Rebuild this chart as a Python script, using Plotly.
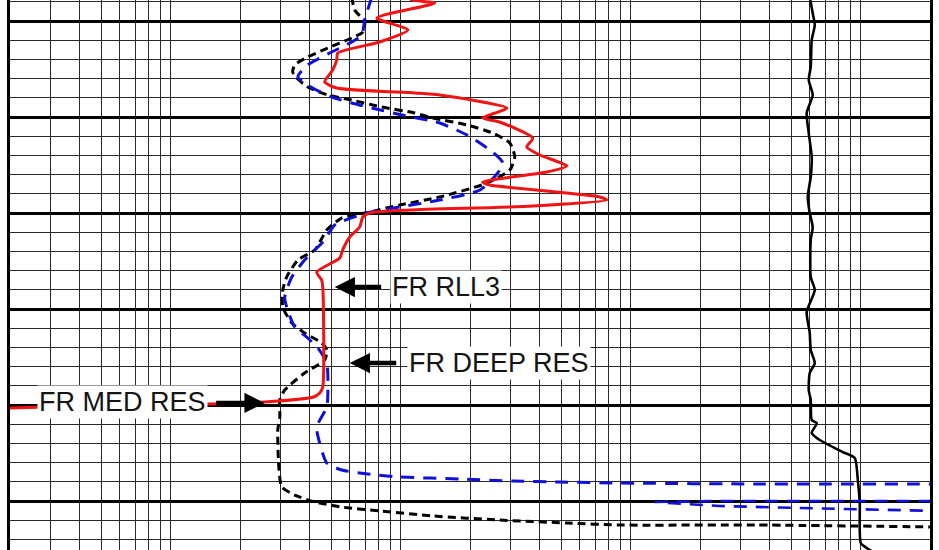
import math
import plotly.graph_objects as go

# ---- log track data: depth (ft) and resistivity (ohm.m) ----
red_depth = [4997.5, 4997.81, 4998.13, 4999.69, 5000.94, 5002.19, 5003.33, 5004.06, 5005.10, 5006.35,
             5006.98, 5007.50, 5007.71, 5009.06, 5010.10, 5010.52, 5012.19, 5013.13, 5013.96, 5015.10,
             5015.73, 5016.77, 5017.08, 5018.33, 5018.65, 5019.27, 5019.69, 5020.00, 5020.42, 5021.46,
             5022.50, 5023.85, 5024.69, 5026.15, 5026.98, 5027.71, 5038.13, 5038.75, 5039.17, 5039.69,
             5039.90, 5040.10, 5040.31, 5040.36]
red_res = [10.73, 11.16, 14.05, 7.87, 10.73, 8.10, 5.32, 5.27, 5.06, 4.67,
           5.27, 11.50, 14.78, 28.9, 22.7, 26.9, 37.5, 35.3, 40.2, 52.7,
           43.1, 22.7, 24.4, 73.3, 78.6, 37.5, 10.94, 7.33, 6.84, 6.63,
           6.00, 5.59, 5.43, 4.31, 4.53, 4.58, 4.58, 4.44, 4.18, 2.56,
           1.43, 0.491, 0.1995, 0.18]

blue_depth = [4997.5, 4999.90, 5001.46, 5002.19, 5003.23, 5004.58, 5005.83, 5006.98, 5007.92, 5008.54,
              5009.06, 5009.79, 5010.63, 5011.88, 5013.65, 5014.79, 5015.83, 5017.60, 5018.65, 5019.38,
              5020.00, 5021.25, 5022.81, 5024.90, 5026.67, 5028.75, 5029.79, 5031.88, 5033.02, 5034.06,
              5035.63, 5038.75, 5040.21, 5042.29, 5043.96, 5046.04, 5046.77, 5047.19, 5047.50, 5047.71,
              5047.92, 5048.02, 5048.13, 5048.23, 5048.23]
blue_res = [7.48, 6.97, 6.77, 6.12, 5.01, 3.94, 3.57, 4.14, 5.01, 6.12,
            7.48, 10.1, 14.78, 19.4, 25.1, 27.8, 26.4, 22.1, 14.78, 9.90,
            7.11, 5.16, 4.67, 3.82, 3.36, 3.13, 3.19, 3.46, 3.94, 4.36,
            4.77, 4.82, 4.77, 4.31, 4.44, 4.77, 5.54, 7.19, 9.90, 18.1,
            30.7, 49.1, 89.6, 364, 2205]

blue_tail_a_depth = [5050.10, 5050.0, 5050.0]
blue_tail_a_res = [127, 244, 2205]
blue_tail_b_depth = [5050.21, 5050.52, 5050.73, 5051.04]
blue_tail_b_res = [145, 244, 543, 2205]

black_depth = [4997.5, 4998.85, 5000.10, 5001.15, 5001.77, 5002.81, 5003.75, 5004.58, 5005.31, 5005.94,
               5006.88, 5007.71, 5008.23, 5008.96, 5009.58, 5010.10, 5010.83, 5011.67, 5012.71, 5014.17,
               5015.52, 5016.88, 5018.33, 5019.17, 5019.90, 5020.52, 5021.77, 5023.85, 5024.90, 5026.67,
               5028.02, 5029.79, 5031.46, 5032.50, 5033.54, 5034.27, 5035.31, 5036.67, 5038.44, 5039.48,
               5041.25, 5042.60, 5046.46, 5048.54, 5049.38, 5050.10, 5050.63, 5051.04, 5051.56, 5051.98,
               5052.29, 5052.50, 5052.50, 5052.71]
black_res = [6.12, 6.31, 6.97, 6.84, 6.12, 4.82, 3.94, 3.46, 3.39, 3.53,
             3.94, 4.82, 6.12, 8.27, 11.50, 13.8, 19.4, 25.1, 29.8, 31.3,
             29.8, 23.7, 14.78, 9.90, 7.33, 5.54, 4.77, 4.23, 3.57, 3.19,
             3.07, 3.07, 3.36, 3.82, 4.53, 4.77, 4.67, 3.82, 3.13, 2.98,
             2.98, 2.92, 2.95, 3.04, 3.46, 4.23, 5.54, 8.10, 13.8, 26.9,
             52.7, 89.6, 353, 2205]

solid_depth = [4997.5, 4999.17, 5000.42, 5001.98, 5004.79, 5006.15, 5007.71, 5009.58, 5011.67, 5014.17,
               5016.25, 5018.33, 5020.00, 5021.46, 5022.81, 5026.67, 5028.02, 5030.31, 5032.50, 5034.27,
               5035.63, 5036.67, 5038.44, 5039.48, 5041.56, 5041.88, 5042.92, 5043.65, 5044.90, 5045.52,
               5047.81, 5050.21, 5054.38, 5054.90, 5055.42]
solid_res = [600, 618, 631, 612, 606, 594, 618, 582, 594, 612,
             606, 588, 600, 618, 606, 606, 631, 582, 600, 606,
             631, 600, 594, 606, 612, 644, 612, 663, 835, 942,
             971, 990, 1000, 1062, 1151]

# curve labels with their arrows
labels = ["FR RLL3", "FR DEEP RES", "FR MED RES"]
label_tip_res = [5.16, 6.0, 2.56]
label_tip_depth = [5027.71, 5035.63, 5039.79]
label_tail_dx = [48, 48, -50]
label_text_res = [9.0, 10.6, 1.45]
label_text_depth = [5027.71, 5035.63, 5039.69]
label_anchor = ["left", "left", "right"]

# logarithmic grid: every digit of each decade, 0.2 to 2000
grid_digits = [1, 2, 3, 4, 5, 6, 7, 8, 9]
grid_decades = [0.1, 1, 10, 100, 1000]
x_grid = [d * p for p in grid_decades for d in grid_digits if 0.2 <= d * p <= 2000]

TOP, BOTTOM = 4997.8125, 5055.104

fig = go.Figure()
fig.add_trace(go.Scatter(x=solid_res, y=solid_depth, mode="lines",
                         line=dict(color="#000000", width=2.6, shape="spline", smoothing=0.6)))
fig.add_trace(go.Scatter(x=black_res, y=black_depth, mode="lines",
                         line=dict(color="#000000", width=3, dash="8px,5px", shape="spline", smoothing=0.6)))
for xs, ys in [(blue_tail_a_res, blue_tail_a_depth), (blue_tail_b_res, blue_tail_b_depth)]:
    fig.add_trace(go.Scatter(x=xs, y=ys, mode="lines",
                             line=dict(color="#1010d8", width=2.6, dash="13px,9px")))
fig.add_trace(go.Scatter(x=blue_res, y=blue_depth, mode="lines",
                         line=dict(color="#1010d8", width=3, dash="13px,9px", shape="spline", smoothing=0.6)))
fig.add_trace(go.Scatter(x=red_res, y=red_depth, mode="lines",
                         line=dict(color="#f01414", width=3, shape="spline", smoothing=0.6)))

annotations = []
for i, txt in enumerate(labels):
    annotations.append(dict(
        x=math.log10(label_text_res[i]), y=label_text_depth[i], xref="x", yref="y",
        text=txt, showarrow=False, xanchor=label_anchor[i], yanchor="middle",
        font=dict(family="Liberation Sans, Arial, sans-serif", size=27, color="#141414"),
        bgcolor="#ffffff", borderpad=1))
    annotations.append(dict(
        x=math.log10(label_tip_res[i]), y=label_tip_depth[i], xref="x", yref="y",
        text="", showarrow=True, ax=label_tail_dx[i], ay=0,
        arrowhead=2, arrowsize=0.9, arrowwidth=4.5, arrowcolor="#000000"))

fig.update_layout(
    width=939, height=550,
    margin=dict(l=10, r=9, t=0, b=0),
    paper_bgcolor="#ffffff", plot_bgcolor="#ffffff",
    showlegend=False,
    annotations=annotations,
    xaxis=dict(type="log", range=[math.log10(0.2), math.log10(2000)],
               tickmode="array", tickvals=x_grid, showticklabels=False, ticks="",
               showgrid=True, gridcolor="#2a2a2a", gridwidth=1,
               zeroline=False, showline=False),
    yaxis=dict(range=[BOTTOM, TOP], tick0=5000, dtick=10,
               showticklabels=False, ticks="",
               showgrid=True, gridcolor="#000000", gridwidth=2.6,
               minor=dict(tick0=5000, dtick=2, showgrid=True, gridcolor="#2a2a2a", gridwidth=1),
               zeroline=False, showline=True, mirror=True, linecolor="#000000", linewidth=3),
)

fig.write_html("out.html")
